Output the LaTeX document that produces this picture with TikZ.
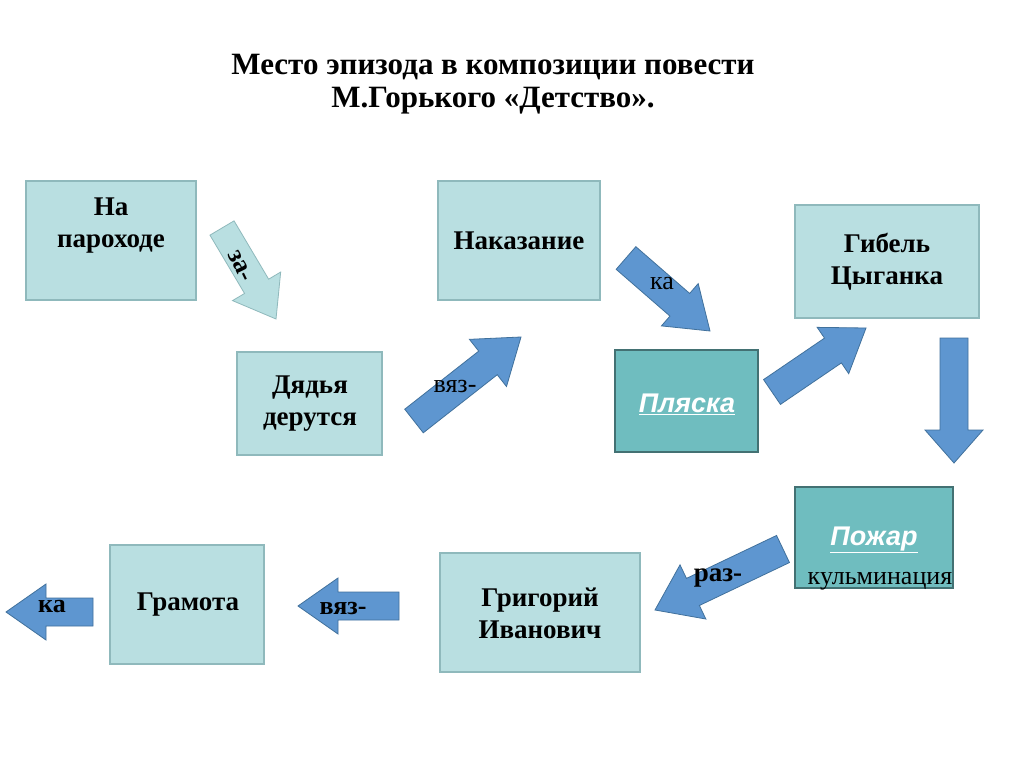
\documentclass[tikz,border=0pt]{standalone}
\usepackage{fontspec}
\setmainfont{Liberation Serif}
\setsansfont{Liberation Sans}
\usetikzlibrary{calc}
\definecolor{boxfill}{HTML}{B9DFE1}
\definecolor{boxline}{HTML}{8FB9BC}
\definecolor{teal}{HTML}{6FBDBF}
\definecolor{arrfill}{HTML}{5E96D0}
\definecolor{arrline}{HTML}{41719C}
\tikzset{
  box/.style={draw=boxline,fill=boxfill,line width=1.2pt},
  dark/.style={draw=teal!60!black,fill=teal,line width=2pt},
  btxt/.style={font=\fontsize{27}{32}\selectfont\bfseries,align=center},
  wtxt/.style={font=\sffamily\fontsize{27}{30}\selectfont\bfseries\itshape,text=white},
  barr/.style={draw=arrline,fill=arrfill,line width=0.8pt},
  larr/.style={draw=boxline,fill=boxfill,line width=0.8pt},
  lab/.style={font=\fontsize{26}{30}\selectfont},
  blab/.style={font=\fontsize{26}{30}\selectfont\bfseries},
}
\newcommand\blockarr[6]{%
  \coordinate (bA) at #2; \coordinate (bB) at #3;
  \coordinate (bH) at ($(bB)!#6!(bA)$);
  \draw[#1] ($(bA)!#4!90:(bB)$) -- ($(bH)!#4!90:(bB)$) -- ($(bH)!#5!90:(bB)$) -- (bB)
    -- ($(bH)!#5!-90:(bB)$) -- ($(bH)!#4!-90:(bB)$) -- ($(bA)!#4!-90:(bB)$) -- cycle;}
\begin{document}
\begin{tikzpicture}[x=1pt,y=-1pt]
\useasboundingbox[fill=white] (0,0) rectangle (1024,767);
\node[font=\fontsize{31}{33}\selectfont\bfseries,align=center] (title) at (493,84)
  {Место эпизода в композиции повести\\М.Горького «Детство».};
% boxes
\draw[box] (26,181) rectangle (196,300);
\node[btxt] (b1) at (111,226) {На\\пароходе};
\draw[box] (237,352) rectangle (382,455);
\node[btxt] (b2) at (310,404) {Дядья\\дерутся};
\draw[box] (438,181) rectangle (600,300);
\node[btxt] (b3) at (519,241) {Наказание};
\draw[dark] (615,350) rectangle (758,452);
\node[wtxt] (b4) at (687,404) {\underline{Пляска}};
\draw[box] (795,205) rectangle (979,318);
\node[btxt] (b5) at (887,262) {Гибель\\Цыганка};
\draw[dark] (795,487) rectangle (953,588);
\node[wtxt] (b6) at (874,540) {\underline{Пожар}};
\draw[box] (440,553) rectangle (640,672);
\node[btxt] (b7) at (540,613) {Григорий\\Иванович};
\draw[box] (110,545) rectangle (264,664);
\node[btxt] (b8) at (188,605) {Грамота};
% arrows
\blockarr{larr}{(222,228)}{(276,319)}{14pt}{28pt}{38pt}
\node[blab,rotate=-64] (l1) at (240,266) {за-};
\blockarr{barr}{(414,421)}{(521,337)}{15pt}{30pt}{42pt}
\node[lab] (l2) at (455,386) {вяз-};
\blockarr{barr}{(626,258)}{(710,331)}{15pt}{28pt}{40pt}
\node[lab] (l3) at (662,284) {ка};
\blockarr{barr}{(772,392)}{(866,328)}{15pt}{28pt}{40pt}
\blockarr{barr}{(954,338)}{(954,463)}{14pt}{29pt}{33pt}
\blockarr{barr}{(783,549)}{(655,610)}{15pt}{30pt}{42pt}
\node[blab,font=\fontsize{27}{30}\selectfont\bfseries] (l4) at (718,578) {раз-};
\node[lab] (l5) at (880,581) {кульминация};
\blockarr{barr}{(399,606)}{(298,606)}{14pt}{28pt}{40pt}
\node[blab] (l6) at (343,608) {вяз-};
\blockarr{barr}{(93,612)}{(6,612)}{14pt}{28pt}{40pt}
\node[blab] (l7) at (52,607) {ка};
\end{tikzpicture}
\end{document}
